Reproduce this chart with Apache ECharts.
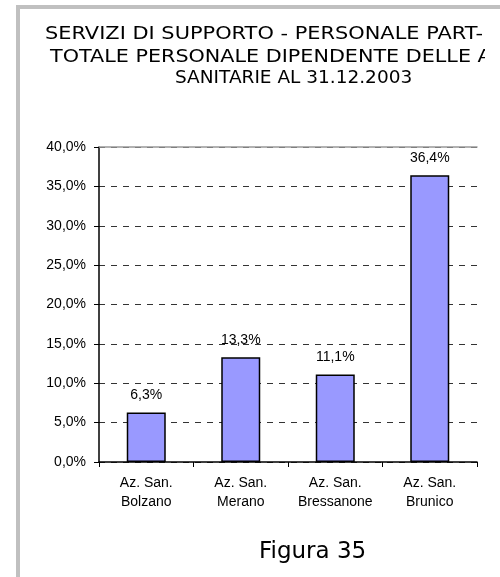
<!DOCTYPE html>
<html>
<head>
<meta charset="utf-8">
<script src="https://cdn.jsdelivr.net/npm/echarts@6/dist/echarts.min.js"></script>
<style>
  html, body { margin: 0; padding: 0; background: #fff; }
  #chart { width: 500px; height: 577px; }
</style>
</head>
<body>
<div id="chart"></div>
<script>
// dati
var aziende = ['Az. San.\nBolzano', 'Az. San.\nMerano', 'Az. San.\nBressanone', 'Az. San.\nBrunico'];
var valori = [6.3, 13.3, 11.1, 36.4];
var titolo = ['SERVIZI DI SUPPORTO - PERSONALE PART-', 'TOTALE PERSONALE DIPENDENTE DELLE A', 'SANITARIE AL 31.12.2003'];

function perc(v) {
  return v.toFixed(1).replace('.', ',') + '%';
}

var chart = echarts.init(document.getElementById('chart'));

var option = {
  backgroundColor: '#fff',
  animation: false,
  grid: { left: 99, right: 23, top: 147, bottom: 115 },
  graphic: [
    // cornice grigia
    { type: 'rect', shape: { x: 16, y: 5, width: 484, height: 4 }, style: { fill: '#c0c0c0' } },
    { type: 'rect', shape: { x: 16, y: 5, width: 4, height: 572 }, style: { fill: '#c0c0c0' } },
    { type: 'text', x: 45, y: 25, scaleX: 1.13, style: { text: titolo[0], font: '18.5px "DejaVu Sans"', fill: '#000' } },
    { type: 'text', x: 50, y: 48, scaleX: 1.12, style: { text: titolo[1], font: '18.5px "DejaVu Sans"', fill: '#000' } },
    { type: 'text', x: 175, y: 69, style: { text: titolo[2], font: '18.5px "DejaVu Sans"', fill: '#000' } },
    { type: 'rect', z: 10, shape: { x: 485, y: 15, width: 15, height: 60 }, style: { fill: '#fff' } },
    { type: 'text', x: 259, y: 541, style: { text: 'Figura 35', font: '23px "DejaVu Sans"', fill: '#000' } }
  ],
  xAxis: [
    {
      type: 'category',
      data: aziende,
      axisLine: { lineStyle: { color: '#000', width: 1.5 } },
      axisTick: { show: true, length: 5, lineStyle: { color: '#000' } },
      axisLabel: {
        color: '#000',
        fontFamily: 'Liberation Sans',
        fontSize: 14,
        lineHeight: 19,
        margin: 12,
        interval: 0
      }
    },
    {
      type: 'category',
      position: 'top',
      data: aziende,
      axisLine: { show: true, lineStyle: { color: '#999', width: 1.5 } },
      axisTick: { show: false },
      axisLabel: { show: false }
    }
  ],
  yAxis: {
    type: 'value',
    min: 0,
    max: 40,
    interval: 5,
    axisLine: { show: true, lineStyle: { color: '#000', width: 1.5 } },
    axisTick: { show: true, length: 5, lineStyle: { color: '#000' } },
    axisLabel: {
      color: '#000',
      fontFamily: 'Liberation Sans',
      fontSize: 14,
      margin: 13,
      formatter: perc
    },
    splitLine: { show: true, lineStyle: { color: '#333', type: [6, 6], width: 1 } }
  },
  series: [
    {
      type: 'bar',
      data: valori,
      barWidth: 39,
      itemStyle: { color: '#9999ff', borderColor: '#000', borderWidth: 1.5 },
      label: {
        show: true,
        position: 'top',
        distance: 10,
        color: '#000',
        fontFamily: 'Liberation Sans',
        fontSize: 14,
        formatter: function (p) { return perc(p.value); }
      }
    }
  ]
};

chart.setOption(option);
</script>
</body>
</html>
